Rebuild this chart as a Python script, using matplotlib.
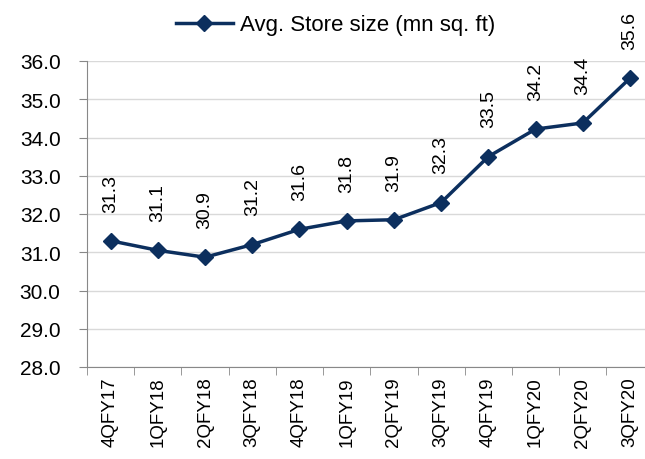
import matplotlib
matplotlib.use("Agg")
import matplotlib.pyplot as plt

categories = ["4QFY17", "1QFY18", "2QFY18", "3QFY18", "4QFY18", "1QFY19",
              "2QFY19", "3QFY19", "4QFY19", "1QFY20", "2QFY20", "3QFY20"]
values = [31.3, 31.05, 30.87, 31.2, 31.6, 31.82, 31.85, 32.3, 33.5, 34.22, 34.38, 35.55]
label_text = ["31.3", "31.1", "30.9", "31.2", "31.6", "31.8", "31.9", "32.3",
              "33.5", "34.2", "34.4", "35.6"]
yticks = [28.0, 29.0, 30.0, 31.0, 32.0, 33.0, 34.0, 35.0, 36.0]

plt.rcParams['font.family'] = ['Liberation Sans', 'DejaVu Sans']
color = "#0C2F5E"

fig = plt.figure(figsize=(6.45, 4.6), dpi=100)
ax = fig.add_axes([87/645, 92/460, (653.6-87)/645, (368-62)/460])
x = list(range(len(categories)))
ax.plot(x, values, color=color, lw=2.5, marker="D", ms=8,
        label="Avg. Store size (mn sq. ft)")
ax.set_xlim(-0.5, len(categories) - 0.5)
ax.set_ylim(28, 36)
ax.set_yticks(yticks)
ax.set_yticklabels([f"{v:.1f}" for v in yticks], fontsize=15)
ax.set_xticks([i - 0.5 for i in x] + [len(x) - 0.5], minor=True)
ax.set_xticks(x)
ax.set_xticklabels(categories, rotation=90, fontsize=13.5)
ax.tick_params(axis="x", which="major", length=0, pad=7)
ax.tick_params(axis="x", which="minor", length=6, color="#888888")
ax.tick_params(axis="y", length=6, color="#888888", pad=13)
ax.grid(axis="y", color="#D9D9D9", lw=1)
ax.set_axisbelow(True)
for s in ["top", "right"]:
    ax.spines[s].set_visible(False)
for s in ["left", "bottom"]:
    ax.spines[s].set_color("#888888")

for xi, v, t in zip(x, values, label_text):
    ax.annotate(t, (xi, v), xytext=(0, 21), textcoords="offset points",
                rotation=90, ha="center", va="bottom", fontsize=14)

fig.legend(loc="upper center", bbox_to_anchor=(0.52, 1.01), frameon=False,
           fontsize=16, handlelength=2.6, handletextpad=0.3)

fig.savefig("out.png", dpi=100)
